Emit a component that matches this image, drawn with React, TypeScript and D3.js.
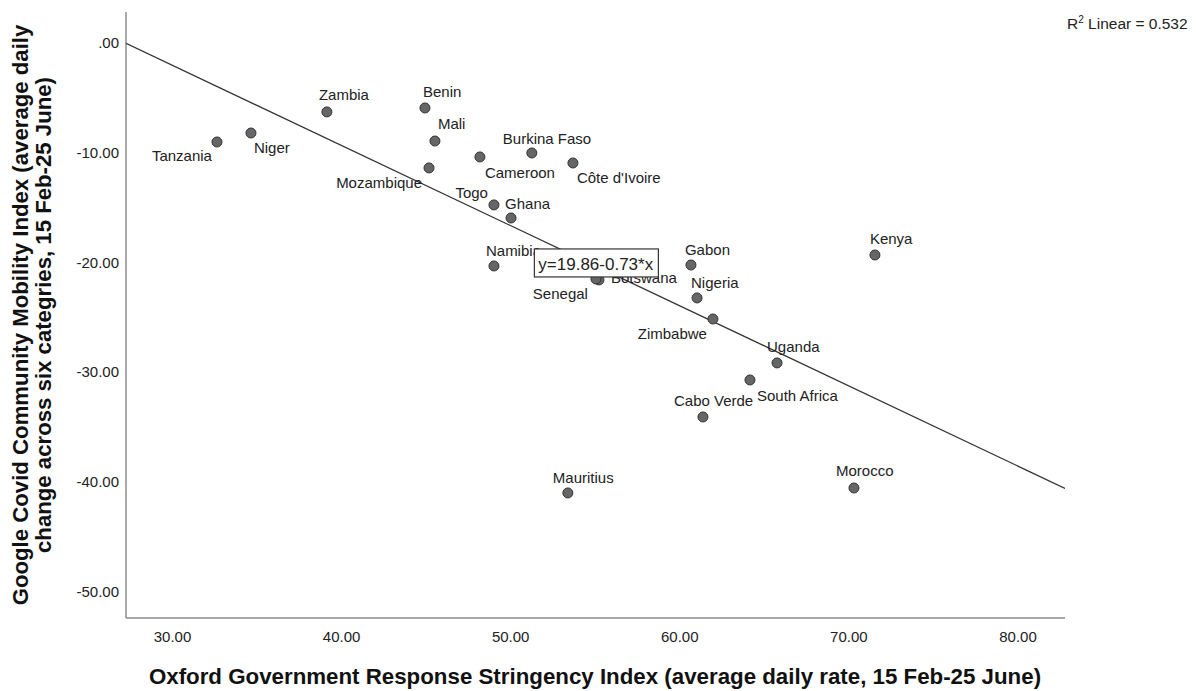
import React from "react";
import * as d3 from "d3";

const countries = [
  "Tanzania", "Niger", "Zambia", "Benin", "Mali", "Mozambique", "Cameroon",
  "Burkina Faso", "Côte d'Ivoire", "Togo", "Ghana", "Namibia", "Botswana",
  "Senegal", "Gabon", "Nigeria", "Zimbabwe", "Uganda", "South Africa",
  "Cabo Verde", "Kenya", "Mauritius", "Morocco",
];
const stringency = [
  32.63, 34.64, 39.13, 44.93, 45.52, 45.17, 48.18,
  51.25, 53.68, 49.01, 50.02, 49.01, 55.22,
  55.04, 60.66, 61.02, 61.96, 65.75, 64.15,
  61.37, 71.54, 53.38, 70.30,
];
const mobility = [
  -9.02, -8.2, -6.28, -5.92, -8.93, -11.38, -10.38,
  -10.02, -10.93, -14.75, -15.94, -20.31, -21.58,
  -21.49, -20.22, -23.22, -25.14, -29.14, -30.69,
  -34.06, -19.31, -40.98, -40.53,
];
const xTicks = [30, 40, 50, 60, 70, 80];
const yTicks = [0, -10, -20, -30, -40, -50];
const fitIntercept = 19.86;
const fitSlope = -0.73;
const r2 = "0.532";

// label placement (layout): [dx, dy, anchor]
const labelPlacement: [number, number, string][] = [
  [-5, 19, "end"], [3, 20, "start"], [-8, -12, "start"], [-2, -11, "start"],
  [3, -12, "start"], [-7, 20, "end"], [5, 21, "start"], [-29, -9, "start"],
  [4, 20, "start"], [-6, -7, "end"], [-6, -9, "start"], [-8, -10, "start"],
  [12, 3, "start"], [-8, 20, "end"], [-6, -10, "start"], [-6, -10, "start"],
  [-6, 20, "end"], [-10, -11, "start"], [7, 21, "start"], [-29, -11, "start"],
  [-5, -11, "start"], [-15, -10, "start"], [-18, -12, "start"],
];

const FONT = "'Liberation Sans', Arial, sans-serif";

export default function App() {
  const W = 1196, H = 691;
  const left = 126, right = 1065, top = 12, bottom = 618;
  const x = d3.scaleLinear().domain([27.25, 82.78]).range([left, right]);
  const y = d3.scaleLinear().domain([2.82, -52.37]).range([top, bottom]);
  const fmt = (v: number) => {
    const s = d3.format(".2f")(v);
    return s === "0.00" ? ".00" : s.replace("−", "-");
  };
  const [x0, x1] = x.domain();
  const lineGen = d3.line<number>().x((d) => x(d)).y((d) => y(fitIntercept + fitSlope * d));

  const boxX = x(51.4);
  const boxY = y(-18.76);

  return (
    <svg width={W} height={H} style={{ position: "absolute", left: 0, top: 0, background: "#fff" }} fontFamily={FONT}>
      <rect x={0} y={0} width={W} height={H} fill="#fff" />
      <defs>
        <clipPath id="plot">
          <rect x={left} y={top} width={right - left} height={bottom - top} />
        </clipPath>
      </defs>
      {/* axes */}
      <line x1={left} y1={top} x2={left} y2={bottom} stroke="#8c8c8c" strokeWidth={1.5} />
      <line x1={left} y1={bottom} x2={right} y2={bottom} stroke="#8c8c8c" strokeWidth={1.5} />
      {yTicks.map((t) => (
        <text key={t} x={119} y={y(t) + 5} textAnchor="end" fontSize={15} fill="#222">{fmt(t)}</text>
      ))}
      {xTicks.map((t) => (
        <text key={t} x={x(t)} y={642} textAnchor="middle" fontSize={15} fill="#222">{fmt(t)}</text>
      ))}
      {/* regression line */}
      <path d={lineGen([x0, x1]) || ""} stroke="#333" strokeWidth={1.3} fill="none" clipPath="url(#plot)" />
      {/* points */}
      {countries.map((c, i) => (
        <circle key={c} cx={x(stringency[i])} cy={y(mobility[i])} r={5} fill="#666" stroke="#333" strokeWidth={1} />
      ))}
      {countries.map((c, i) => {
        const [dx, dy, anchor] = labelPlacement[i];
        return (
          <text key={c + "l"} x={x(stringency[i]) + dx} y={y(mobility[i]) + dy} textAnchor={anchor as any} fontSize={15} fill="#222">{c}</text>
        );
      })}
      {/* equation box */}
      <rect x={boxX} y={boxY} width={124} height={28} fill="#fff" stroke="#333" strokeWidth={1.2} />
      <text x={boxX + 4} y={boxY + 21} fontSize={17} fill="#222">{`y=${fitIntercept}${fitSlope}*x`}</text>
      {/* R2 */}
      <text x={1067} y={29} fontSize={15.5} fill="#222">
        R<tspan dy={-6} fontSize={10}>2</tspan><tspan dy={6}>{` Linear = ${r2}`}</tspan>
      </text>
      {/* axis titles */}
      <text x={595} y={684} textAnchor="middle" fontSize={22.3} fontWeight="bold" fill="#111">
        Oxford Government Response Stringency Index (average daily rate, 15 Feb-25 June)
      </text>
      <g transform={`translate(28, 315) rotate(-90)`}>
        <text x={0} y={0} textAnchor="middle" fontSize={22.2} fontWeight="bold" fill="#111">
          Google Covid Community Mobility Index (average daily
        </text>
        <text x={0} y={23} textAnchor="middle" fontSize={22.2} fontWeight="bold" fill="#111">
          change across six categries, 15 Feb-25 June)
        </text>
      </g>
    </svg>
  );
}
